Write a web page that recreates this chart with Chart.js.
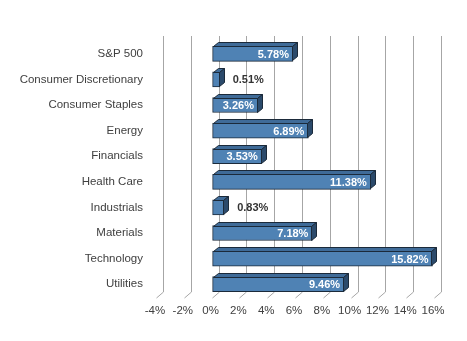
<!DOCTYPE html>
<html>
<head>
<meta charset="utf-8">
<script src="https://cdn.jsdelivr.net/npm/chart.js@4"></script>
<style>
  html, body { margin: 0; padding: 0; background: #fff; }
  #graficoSetores { display: block; }
</style>
</head>
<body>
<canvas id="graficoSetores" width="467" height="341"></canvas>
<script>
// setores e retornos (%)
const setores = ['S&P 500', 'Consumer Discretionary', 'Consumer Staples', 'Energy', 'Financials',
                 'Health Care', 'Industrials', 'Materials', 'Technology', 'Utilities'];
const retornos = [5.78, 0.51, 3.26, 6.89, 3.53, 11.38, 0.83, 7.18, 15.82, 9.46];
const eixoX = [-4, -2, 0, 2, 4, 6, 8, 10, 12, 14, 16];

const profX = 5, profY = 4;      // profundidade das barras
const paredeX = 6, paredeY = 5;  // deslocamento da grade ao fundo

// grade ao fundo com as pernas diagonais
const grade3d = {
    id: 'grade3d',
    beforeDatasetsDraw(chart) {
        const ctx = chart.ctx;
        const area = chart.chartArea;
        const x = chart.scales.x;
        ctx.save();
        ctx.strokeStyle = '#a6a6a6';
        ctx.lineWidth = 1;
        eixoX.forEach(v => {
            const px = Math.round(x.getPixelForValue(v)) + 0.5;
            ctx.beginPath();
            ctx.moveTo(px + paredeX, area.top - paredeY);
            ctx.lineTo(px + paredeX, area.bottom - paredeY);
            ctx.lineTo(px - 1, area.bottom + 1);
            ctx.stroke();
        });
        ctx.restore();
    }
};

// faces de cima e do lado, e os rótulos de valor
const barras3d = {
    id: 'barras3d',
    afterDatasetsDraw(chart) {
        const ctx = chart.ctx;
        const meta = chart.getDatasetMeta(0);
        ctx.save();
        ctx.lineWidth = 1;
        ctx.strokeStyle = '#1b2a3a';
        meta.data.forEach((bar, i) => {
            const p = bar.getProps(['x', 'y', 'base', 'height'], true);
            const topo = Math.round(p.y - p.height / 2) + 0.5;
            const baixo = Math.round(p.y + p.height / 2) - 0.5;
            const esq = Math.round(p.base) + 0.5;
            const dir = Math.round(p.x) - 0.5;

            ctx.beginPath();
            ctx.moveTo(esq, topo);
            ctx.lineTo(esq + profX, topo - profY);
            ctx.lineTo(dir + profX, topo - profY);
            ctx.lineTo(dir, topo);
            ctx.closePath();
            ctx.fillStyle = '#3f6b98';
            ctx.fill();
            ctx.stroke();

            ctx.beginPath();
            ctx.moveTo(dir, topo);
            ctx.lineTo(dir + profX, topo - profY);
            ctx.lineTo(dir + profX, baixo - profY);
            ctx.lineTo(dir, baixo);
            ctx.closePath();
            ctx.fillStyle = '#2b4a6b';
            ctx.fill();
            ctx.stroke();

            const texto = retornos[i].toFixed(2) + '%';
            ctx.textBaseline = 'middle';
            if (retornos[i] < 2) {
                ctx.font = 'bold 11px Arial, "Liberation Sans", sans-serif';
                ctx.fillStyle = '#333333';
                ctx.textAlign = 'left';
                ctx.fillText(texto, p.x + 13, p.y + 1);
            } else {
                ctx.font = 'bold 11px Arial, "Liberation Sans", sans-serif';
                ctx.fillStyle = '#ffffff';
                ctx.textAlign = 'right';
                ctx.fillText(texto, p.x - 4, p.y + 1);
            }
        });
        ctx.restore();
    }
};

Chart.defaults.font.family = 'Arial, "Liberation Sans", sans-serif';
Chart.defaults.color = '#404040';

const ctx = document.getElementById('graficoSetores').getContext('2d');

const grafico = new Chart(ctx, {
    type: 'bar',
    data: {
        labels: setores,
        datasets: [{
            data: retornos,
            backgroundColor: '#4f82b4',
            borderColor: '#1b2a3a',
            borderWidth: 1,
            borderSkipped: false,
            barThickness: 15
        }]
    },
    options: {
        indexAxis: 'y',
        responsive: false,
        animation: false,
        layout: { padding: { top: 41, right: 32, bottom: 14, left: 0 } },
        plugins: {
            legend: { display: false },
            tooltip: { enabled: false }
        },
        scales: {
            x: {
                min: -4,
                max: 16,
                afterFit(scale) { scale.height = 30; },
                afterBuildTicks(scale) { scale.ticks = eixoX.map(v => ({ value: v })); },
                grid: { display: false, drawTicks: false },
                border: { display: false },
                ticks: {
                    padding: 7,
                    labelOffset: -2,
                    autoSkip: false,
                    minRotation: 0,
                    maxRotation: 0,
                    font: { size: 11.5 },
                    callback: v => v + '%'
                }
            },
            y: {
                afterFit(scale) { scale.width = 157; },
                grid: { display: false, drawTicks: false },
                border: { display: false },
                ticks: {
                    padding: 14,
                    font: { size: 11.5 }
                }
            }
        }
    },
    plugins: [grade3d, barras3d]
});
</script>
</body>
</html>
